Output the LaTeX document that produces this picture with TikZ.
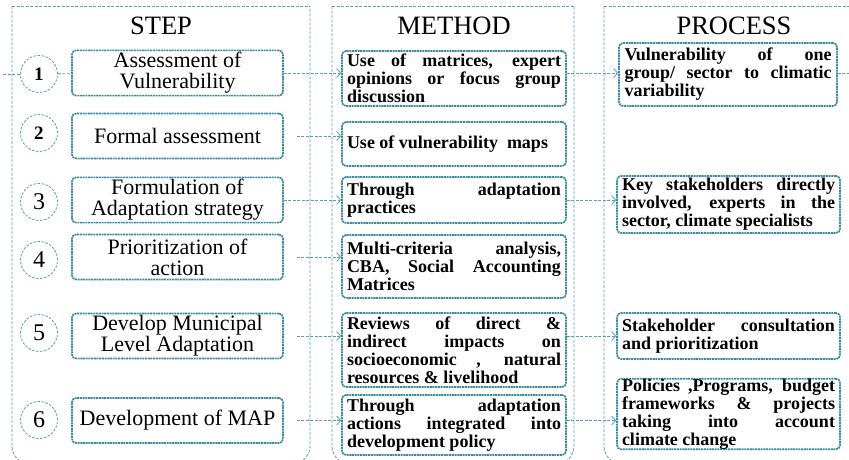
\documentclass[tikz,border=0pt]{standalone}
\usepackage{fontspec}
\setmainfont{Liberation Serif}
\usetikzlibrary{arrows.meta}

\definecolor{frameblue}{RGB}{84,160,184}
\definecolor{boxblue}{RGB}{56,138,164}

\begin{document}
\begin{tikzpicture}[x=1pt,y=-1pt,
  colframe/.style={draw=frameblue, line width=0.8pt, dash pattern=on 3pt off 1.5pt},
  dashline/.style={draw=frameblue, line width=0.8pt, dash pattern=on 3pt off 1.5pt},
  link/.style={dashline, -{Straight Barb[length=4pt,width=9pt]}},
  numcirc/.style={circle, draw=frameblue, line width=0.8pt, dash pattern=on 2.5pt off 1.5pt,
    minimum size=37pt, inner sep=0pt, font=\fontsize{24}{24}\selectfont},
  stepbox/.style={draw=boxblue, line width=1.7pt, dash pattern=on 2pt off 0.7pt,
    rounded corners=4pt, minimum width=211pt, minimum height=45pt, inner sep=2pt,
    align=center, font=\fontsize{22}{21}\selectfont},
  textbox/.style={draw=boxblue, line width=1.7pt, dash pattern=on 2pt off 0.7pt,
    rounded corners=4pt, text width=214pt, inner xsep=5pt, inner ysep=2pt,
    align=justify, font=\bfseries\fontsize{18}{18}\selectfont},
  title/.style={font=\fontsize{26.5}{28}\selectfont}
]

\useasboundingbox (0,0) rectangle (849,459);
\clip (0,0) rectangle (849,459);

% three columns, open at the bottom
\draw[colframe] (12,6) -- (310,6);
\draw[colframe, rounded corners=18pt] (12,6) -- (12,464) -- (310,464) -- (310,6);
\draw[colframe] (332,6) -- (574,6);
\draw[colframe, rounded corners=18pt] (332,6) -- (332,464) -- (574,464) -- (574,6);
\draw[colframe] (604,6) -- (880,6);
\draw[colframe, rounded corners=18pt] (604,6) -- (604,464) -- (880,464) -- (880,6);

\node[title] (tstep) at (161,26) {STEP};
\node[title] (tmethod) at (454,26) {METHOD};
\node[title] (tprocess) at (734,26) {PROCESS};

% step numbers
\node[numcirc, font=\bfseries\fontsize{19}{19}\selectfont] (n1) at (39,74) {1};
\node[numcirc, font=\bfseries\fontsize{19}{19}\selectfont] (n2) at (39,133) {2};
\node[numcirc] (n3) at (39,202) {3};
\node[numcirc] (n4) at (39,260) {4};
\node[numcirc] (n5) at (39,333) {5};
\node[numcirc] (n6) at (39,420) {6};

% steps
\node[stepbox] (s1) at (177.5,73) {Assessment of\\Vulnerability};
\node[stepbox] (s2) at (177.5,136) {Formal assessment};
\node[stepbox] (s3) at (177.5,200) {Formulation of\\Adaptation strategy};
\node[stepbox] (s4) at (177.5,257) {Prioritization of\\action};
\node[stepbox] (s5) at (177.5,336) {Develop Municipal\\Level Adaptation};
\node[stepbox] (s6) at (177.5,420.5) {Development of MAP};

% methods
\node[textbox, minimum height=55pt] (m1) at (454,78.5)
  {Use of matrices, expert\linebreak opinions or focus group\linebreak discussion};
\node[textbox, minimum height=44pt] (m2) at (454,144) {Use of vulnerability~ maps};
\node[textbox, minimum height=46pt] (m3) at (454,200)
  {Through adaptation\linebreak practices};
\node[textbox, minimum height=63pt] (m4) at (454,266.5)
  {Multi-criteria analysis,\linebreak CBA, Social Accounting\linebreak Matrices};
\node[textbox, minimum height=74pt] (m5) at (454,350)
  {Reviews of direct \&\linebreak indirect impacts on\linebreak socioeconomic , natural\linebreak resources \& livelihood};
\node[textbox, minimum height=60pt] (m6) at (454,425)
  {Through adaptation\linebreak actions integrated into\linebreak development policy};

% processes
\node[textbox, text width=207pt, inner xsep=5.5pt, minimum height=63pt] (p1) at (728,74.5)
  {Vulnerability of one\linebreak group/ sector to climatic\linebreak variability};
\node[textbox, text width=213pt, minimum height=57pt] (p2) at (728.5,204.5)
  {Key stakeholders directly\linebreak involved, experts in the\linebreak sector, climate specialists};
\node[textbox, text width=213pt, minimum height=46pt] (p3) at (728.5,336)
  {Stakeholder consultation\linebreak and prioritization};
\node[textbox, text width=213pt, inner ysep=0pt] (p4) at (728.5,414)
  {Policies ,Programs, budget\linebreak frameworks \& projects\linebreak taking into account\linebreak climate change};

\coordinate (lim) at (3,74);
\coordinate (rim) at (849,73);

\draw[dashline] (lim) -- (n1);
\draw[dashline] (n1) -- (s1);

\draw[link] (s1.east) -- (m1.west |- s1.east);
\draw[link, shorten <=13pt] (s2.east) -- (m2.west |- s2.east);
\draw[link] (s3.east) -- (m3.west |- s3.east);
\draw[link, shorten <=13pt] (s4.east) -- (m4.west |- s4.east);
\draw[link, shorten <=13pt] (s5.east) -- (m5.west |- s5.east);
\draw[link, shorten <=13pt] (s6.east) -- (m6.west |- s6.east);

\draw[link] (m1.east |- s1.east) -- (p1.west |- s1.east);
\draw[link] (m3.east |- s3.east) -- (p2.west |- s3.east);
\draw[link] (m5.east |- s5.east) -- (p3.west |- s5.east);
\draw[link] (m6.east |- s6.east) -- (p4.west |- s6.east);
\draw[dashline] (p1.east |- s1.east) -- (rim);

\end{tikzpicture}
\end{document}
